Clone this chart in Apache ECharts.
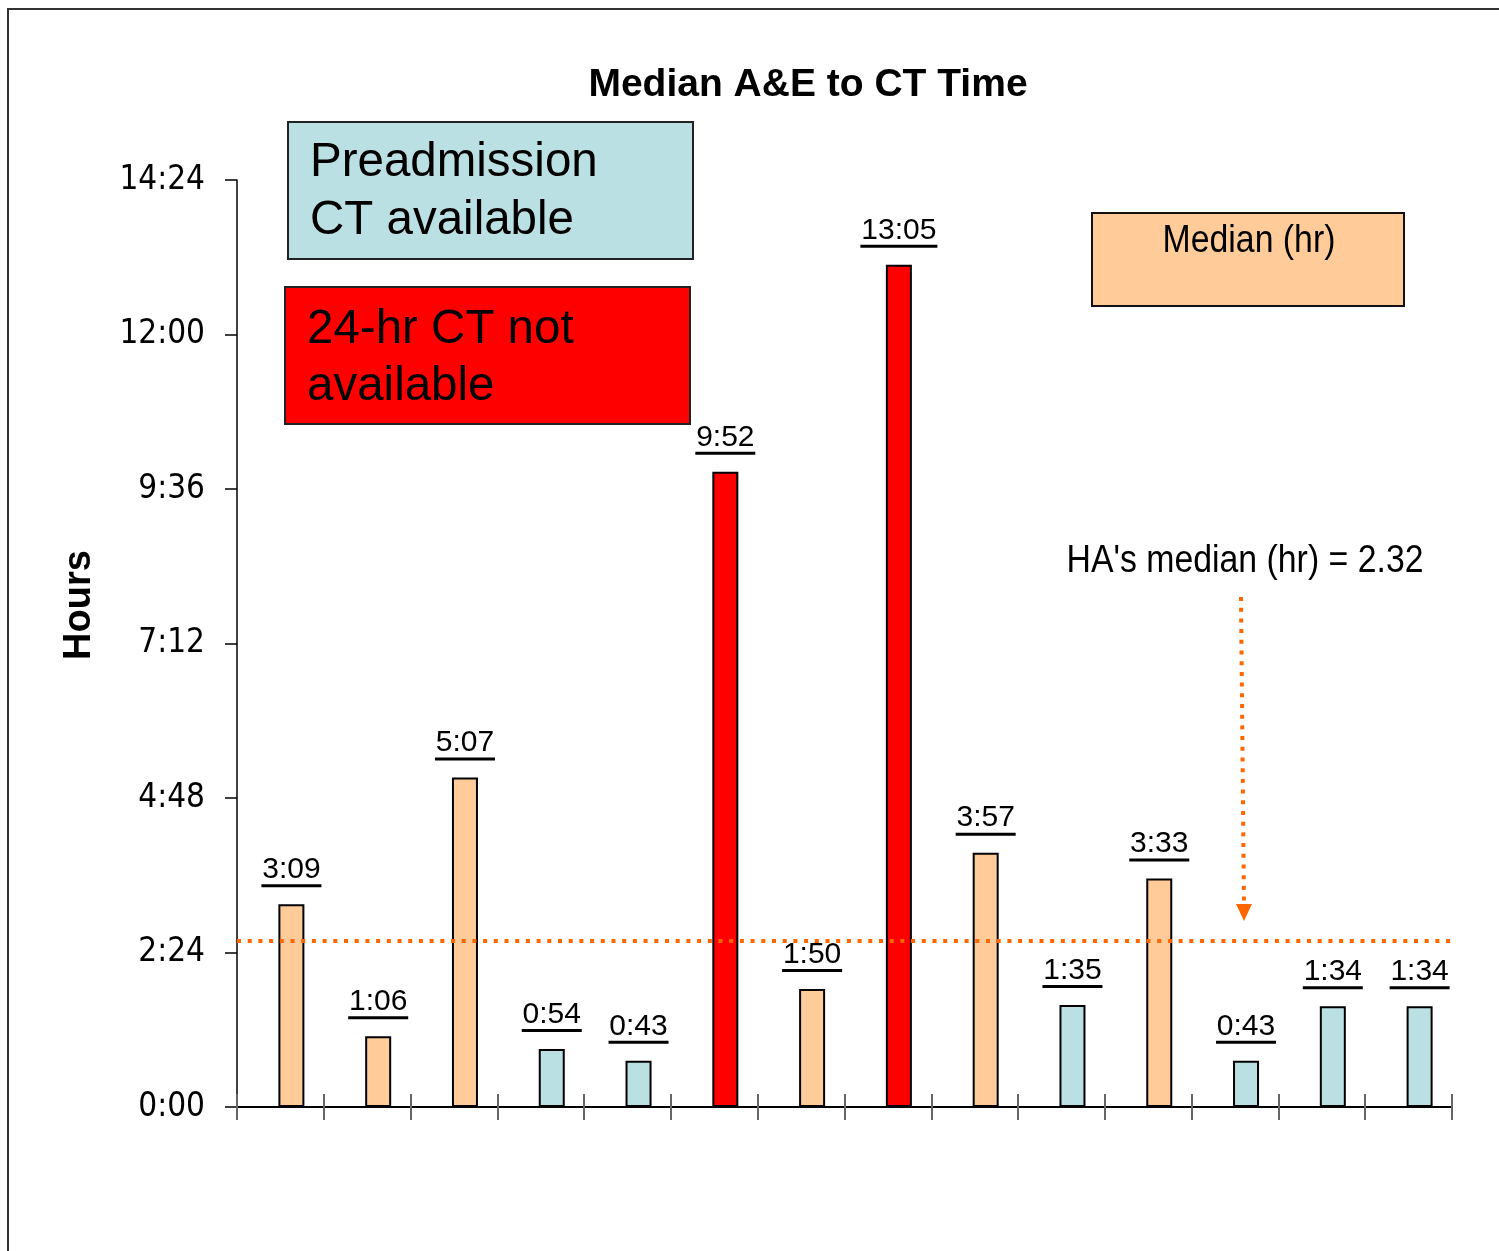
<!DOCTYPE html>
<html>
<head>
<meta charset="utf-8">
<script src="https://cdn.jsdelivr.net/npm/echarts@6/dist/echarts.min.js"></script>
<style>
html,body{margin:0;padding:0;background:#fff;}
#chart{width:1499px;height:1251px;}
</style>
</head>
<body>
<div id="chart"></div>
<script>
// ---- data (values in minutes) ----
var categories = ['H1','H2','H3','H4','H5','H6','H7','H8','H9','H10','H11','H12','H13','H14'];
var medianMinutes = [189, 66, 307, 54, 43, 592, 110, 785, 237, 95, 213, 43, 94, 94];
var ctGroup = ['median','median','median','pre','pre','no24','median','no24','median','pre','median','pre','pre','pre'];
var haMedianMinutes = 155;
var yTicks = [0, 144, 288, 432, 576, 720, 864];

var groupColors = { median: '#FFCC99', pre: '#BBE0E3', no24: '#FF0000' };
var CONDENSED = '"DejaVu Sans Condensed", "Liberation Sans Narrow", sans-serif';
var ARIAL = '"Liberation Sans", Arial, sans-serif';
var NARROW_SCALE = 0.89;

function hm(v) {
  var h = Math.floor(v / 60), m = Math.round(v - h * 60);
  return h + ':' + (m < 10 ? '0' + m : m);
}

// measure label widths so the underline matches the text
var mctx = document.createElement('canvas').getContext('2d');
mctx.font = '30px "Liberation Sans", Arial, sans-serif';
var labelRich = {
  t: { fontFamily: ARIAL, fontSize: 30, color: '#000', lineHeight: 29 }
};
medianMinutes.forEach(function (v) {
  var s = hm(v);
  var key = 'u' + s.length;
  if (!labelRich[key]) {
    labelRich[key] = { width: Math.round(mctx.measureText(s).width) + 2, height: 3, lineHeight: 3, backgroundColor: '#000' };
  }
});

var chart = echarts.init(document.getElementById('chart'), null, { renderer: 'canvas' });

var barData = medianMinutes.map(function (v, i) {
  return { value: v, itemStyle: { color: groupColors[ctGroup[i]] } };
});

var option = {
  animation: false,
  backgroundColor: '#fff',
  grid: { left: 237, right: 47, top: 180, bottom: 144, containLabel: false },
  xAxis: [{
    type: 'category', data: categories, position: 'bottom',
    axisLine: { show: true, lineStyle: { color: '#000', width: 2 } },
    axisTick: { show: true, inside: true, length: 13, lineStyle: { color: '#666', width: 2 } },
    axisLabel: { show: false }, splitLine: { show: false }
  }, {
    type: 'category', data: categories, position: 'bottom', gridIndex: 0,
    axisLine: { show: false },
    axisTick: { show: true, inside: false, length: 13, lineStyle: { color: '#666', width: 2 } },
    axisLabel: { show: false }, splitLine: { show: false }
  }],
  yAxis: {
    type: 'value', min: yTicks[0], max: yTicks[yTicks.length - 1], interval: yTicks[1] - yTicks[0],
    axisLine: { show: true, lineStyle: { color: '#000', width: 1.5 } },
    axisTick: { show: true, inside: false, length: 12, lineStyle: { color: '#000', width: 1.5 } },
    axisLabel: { formatter: function (v) { return hm(v); }, fontFamily: CONDENSED, fontSize: 33, color: '#000', margin: 32 },
    splitLine: { show: false }
  },
  series: [{
    type: 'bar', name: 'spacer', xAxisIndex: 0, barWidth: 22, barGap: '0%',
    data: medianMinutes.map(function () { return '-'; }), silent: true
  }, {
    type: 'bar', name: 'Median (hr)', xAxisIndex: 0, barWidth: 26, barGap: '0%',
    data: barData,
    itemStyle: { borderColor: '#000', borderWidth: 2 },
    label: {
      show: true, position: 'top', distance: 17,
      formatter: function (p) { var s = hm(p.value); return '{t|' + s + '}\n{u' + s.length + '|}'; },
      rich: labelRich
    },
    markLine: {
      silent: true, symbol: ['none', 'none'], label: { show: false },
      lineStyle: { color: '#FF6600', width: 4, type: [4, 6.7], cap: 'butt' },
      data: [{ yAxis: haMedianMinutes }]
    }
  }],
  graphic: [
    { type: 'rect', shape: { x: 8, y: 9, width: 1600, height: 1400 }, style: { fill: 'none', stroke: '#333', lineWidth: 2 }, silent: true },
    { type: 'text', style: { x: 808, y: 85, text: 'Median A&E to CT Time', font: 'bold 39px ' + ARIAL, fill: '#000', align: 'center', verticalAlign: 'middle' } },
    { type: 'text', rotation: Math.PI / 2, x: 80, y: 605, style: { x: 0, y: 0, text: 'Hours', font: 'bold 38px ' + ARIAL, fill: '#000', align: 'center', verticalAlign: 'middle' } },
    // legend boxes
    { type: 'rect', shape: { x: 288, y: 122, width: 405, height: 137 }, style: { fill: groupColors.pre, stroke: '#222', lineWidth: 2 } },
    { type: 'text', style: { x: 310, y: 163, text: 'Preadmission', font: '47.5px ' + ARIAL, fill: '#000', align: 'left', verticalAlign: 'middle' } },
    { type: 'text', style: { x: 310, y: 221, text: 'CT available', font: '47.5px ' + ARIAL, fill: '#000', align: 'left', verticalAlign: 'middle' } },
    { type: 'rect', shape: { x: 285, y: 287, width: 405, height: 137 }, style: { fill: groupColors.no24, stroke: '#222', lineWidth: 2 } },
    { type: 'text', style: { x: 307, y: 330, text: '24-hr CT not', font: '47.5px ' + ARIAL, fill: '#000', align: 'left', verticalAlign: 'middle' } },
    { type: 'text', style: { x: 307, y: 387, text: 'available', font: '47.5px ' + ARIAL, fill: '#000', align: 'left', verticalAlign: 'middle' } },
    { type: 'rect', shape: { x: 1092, y: 213, width: 312, height: 93 }, style: { fill: groupColors.median, stroke: '#111', lineWidth: 2 } },
    { type: 'text', x: 1249, y: 242, scaleX: NARROW_SCALE, style: { x: 0, y: 0, text: 'Median (hr)', font: '38px ' + ARIAL, fill: '#000', align: 'center', verticalAlign: 'middle' } },
    // HA median annotation
    { type: 'text', x: 1245, y: 562, scaleX: NARROW_SCALE, style: { x: 0, y: 0, text: "HA's median (hr) = 2.32", font: '38px ' + ARIAL, fill: '#000', align: 'center', verticalAlign: 'middle' } },
    { type: 'polyline', shape: { points: [[1241, 597], [1244, 905]] }, style: { stroke: '#FF6600', lineWidth: 4, lineDash: [4, 6.7], fill: 'none' }, silent: true },
    { type: 'polygon', shape: { points: [[1236, 904], [1252, 904], [1244, 921]] }, style: { fill: '#FF6600' }, silent: true }
  ]
};
chart.setOption(option);
</script>
</body>
</html>
